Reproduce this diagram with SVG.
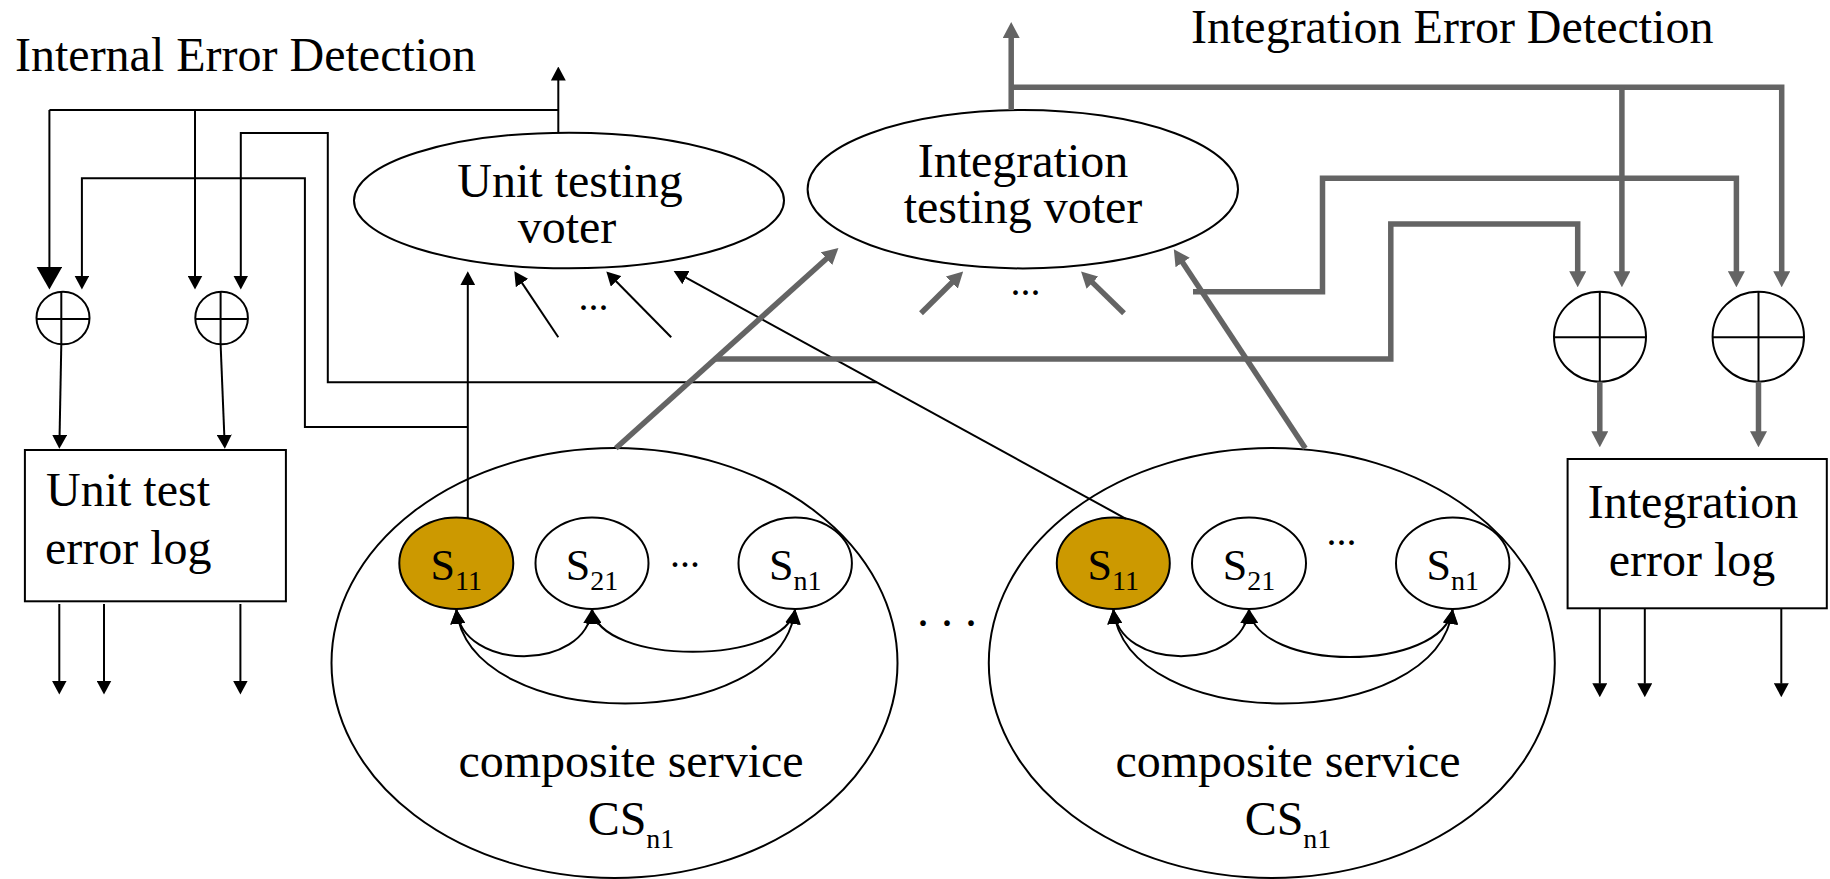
<svg xmlns="http://www.w3.org/2000/svg" width="1830" height="879" viewBox="0 0 1830 879">
  <style>
    .t { font-family: "Liberation Serif", "Times New Roman", serif; font-size: 48px; fill: #000; }
    .sv { font-size: 44px; }
    .sub { font-size: 28px; }
    .dots { font-size: 40px; }
    .shape { fill: #fff; stroke: #000; stroke-width: 2; }
    .outline { fill: none; stroke: #000; stroke-width: 2; }
    .cross { stroke: #000; stroke-width: 2; }
    .thin { fill: none; stroke: #000; stroke-width: 2; }
    .thick { fill: none; stroke: #646464; stroke-width: 5.5; }
    .sel { fill: #cc9900; }
  </style>
  <defs>
    <marker id="ak" viewBox="0 0 14 15" refX="0.5" refY="7.5" markerWidth="14" markerHeight="15" markerUnits="userSpaceOnUse" orient="auto">
      <path d="M0,0 L14,7.5 L0,15 z" fill="#000"/>
    </marker>
    <marker id="akB" viewBox="0 0 23 26" refX="0.5" refY="13" markerWidth="23" markerHeight="26" markerUnits="userSpaceOnUse" orient="auto">
      <path d="M0,0 L23,13 L0,26 z" fill="#000"/>
    </marker>
    <marker id="ag" viewBox="0 0 16 17" refX="1" refY="8.5" markerWidth="16" markerHeight="17" markerUnits="userSpaceOnUse" orient="auto">
      <path d="M0,0 L16,8.5 L0,17 z" fill="#646464"/>
    </marker>
    <marker id="akt" viewBox="0 0 15 15" refX="15" refY="7.5" markerWidth="15" markerHeight="15" markerUnits="userSpaceOnUse" orient="auto-start-reverse">
      <path d="M0,0 L15,7.5 L0,15 z" fill="#000"/>
    </marker>
  </defs>

  <rect width="1830" height="879" fill="#fff"/>

  <!-- headings -->
  <text class="t" x="15" y="70.7">Internal Error Detection</text>
  <text class="t" x="1191" y="42.7">Integration Error Detection</text>

  <!-- composite services -->
  <g id="cs-left">
    <ellipse class="outline" cx="614.5" cy="663" rx="283" ry="215"/>
    <text class="t" x="631" y="776.7" text-anchor="middle">composite service</text>
    <text class="t" x="631" y="835" text-anchor="middle">CS<tspan class="sub" font-size="31" dy="13.3">n1</tspan></text>
  </g>
  <g id="cs-right">
    <ellipse class="outline" cx="1271.8" cy="663" rx="283" ry="215"/>
    <text class="t" x="1288" y="776.7" text-anchor="middle">composite service</text>
    <text class="t" x="1288" y="835" text-anchor="middle">CS<tspan class="sub" font-size="31" dy="13.3">n1</tspan></text>
  </g>

  <!-- services, left composite -->
  <g id="s11-left">
    <ellipse class="shape sel" cx="456.3" cy="563.2" rx="57" ry="45.8"/>
    <text class="t sv" x="456.3" y="580" text-anchor="middle">S<tspan class="sub" dy="10">11</tspan></text>
  </g>
  <g id="s21-left">
    <ellipse class="shape" cx="592" cy="563.2" rx="56.5" ry="45.8"/>
    <text class="t sv" x="592" y="580" text-anchor="middle">S<tspan class="sub" dy="10">21</tspan></text>
  </g>
  <g id="sn1-left">
    <ellipse class="shape" cx="795.2" cy="563.2" rx="56.7" ry="45.8"/>
    <text class="t sv" x="795.2" y="580" text-anchor="middle">S<tspan class="sub" dy="10">n1</tspan></text>
  </g>
  <text class="t dots" x="670" y="566.5">...</text>

  <!-- services, right composite -->
  <g id="s11-right">
    <ellipse class="shape sel" cx="1113.3" cy="563.2" rx="56.5" ry="45.8"/>
    <text class="t sv" x="1113.3" y="580" text-anchor="middle">S<tspan class="sub" dy="10">11</tspan></text>
  </g>
  <g id="s21-right">
    <ellipse class="shape" cx="1249" cy="563.2" rx="57" ry="45.8"/>
    <text class="t sv" x="1249" y="580" text-anchor="middle">S<tspan class="sub" dy="10">21</tspan></text>
  </g>
  <g id="sn1-right">
    <ellipse class="shape" cx="1452.7" cy="563.2" rx="56.7" ry="45.8"/>
    <text class="t sv" x="1452.7" y="580" text-anchor="middle">S<tspan class="sub" dy="10">n1</tspan></text>
  </g>
  <text class="t dots" x="1326.5" y="545">...</text>

  <text class="t" font-size="42" x="917" y="626">. . .</text>

  <!-- voters -->
  <g id="unit-voter">
    <ellipse class="shape" cx="569" cy="200.5" rx="215" ry="67.8"/>
    <text class="t" x="570" y="196.7" text-anchor="middle">Unit testing</text>
    <text class="t" x="567" y="243.3" text-anchor="middle">voter</text>
  </g>
  <text class="t dots" x="578.5" y="310">...</text>
  <g id="integration-voter">
    <ellipse class="shape" cx="1022.8" cy="189.2" rx="215.2" ry="79.2"/>
    <text class="t" x="1023" y="176.7" text-anchor="middle">Integration</text>
    <text class="t" x="1023" y="222.7" text-anchor="middle">testing voter</text>
  </g>
  <text class="t dots" x="1010.5" y="295">...</text>

  <!-- combiners -->
  <g id="xor-unit-1">
    <ellipse class="shape" cx="63" cy="318" rx="26.5" ry="26.3"/>
    <line class="cross" x1="36.5" y1="319" x2="89.5" y2="319"/>
    <line class="cross" x1="61.3" y1="291.7" x2="61.3" y2="344.3"/>
  </g>
  <g id="xor-unit-2">
    <ellipse class="shape" cx="221.6" cy="318" rx="26.3" ry="26.3"/>
    <line class="cross" x1="195.3" y1="319" x2="247.9" y2="319"/>
    <line class="cross" x1="220.6" y1="291.7" x2="220.6" y2="344.3"/>
  </g>
  <g id="xor-int-1">
    <ellipse class="shape" cx="1600" cy="336.7" rx="46" ry="45"/>
    <line class="cross" x1="1554" y1="337.3" x2="1646" y2="337.3"/>
    <line class="cross" x1="1599.8" y1="291.7" x2="1599.8" y2="381.7"/>
  </g>
  <g id="xor-int-2">
    <ellipse class="shape" cx="1758.3" cy="336.7" rx="45.7" ry="45"/>
    <line class="cross" x1="1712.6" y1="337.3" x2="1804" y2="337.3"/>
    <line class="cross" x1="1758.5" y1="291.7" x2="1758.5" y2="381.7"/>
  </g>

  <!-- logs -->
  <g id="unit-log">
    <rect class="shape" x="24.9" y="450" width="261" height="151.3"/>
    <text class="t" x="46" y="506">Unit test</text>
    <text class="t" x="45" y="564">error log</text>
  </g>
  <g id="integration-log">
    <rect class="shape" x="1567.6" y="459" width="259.2" height="149.3"/>
    <text class="t" x="1693" y="518.3" text-anchor="middle">Integration</text>
    <text class="t" x="1692" y="575.7" text-anchor="middle">error log</text>
  </g>

  <g id="connectors">
    <g class="thin">
      <!-- unit testing: voter output and feedback buses -->
      <path d="M558.3,132.7 V80" marker-end="url(#ak)"/>
      <path d="M49.4,110 H558.3"/>
      <path d="M49.4,110 V267" marker-end="url(#akB)"/>
      <path d="M195,110 V276" marker-end="url(#ak)"/>
      <path d="M877,382.3 H327.8 V133 H240.8 V276" marker-end="url(#ak)"/>
      <path d="M467.8,427 H304.9 V178.3 H81.9 V276" marker-end="url(#ak)"/>
      <!-- combiners to unit test log -->
      <path d="M61.3,344.3 L59.6,435.3" marker-end="url(#ak)"/>
      <path d="M220.6,344.3 L224.3,435.3" marker-end="url(#ak)"/>
      <!-- unit test log outputs -->
      <path d="M59.3,604 V681" marker-end="url(#ak)"/>
      <path d="M104,604 V681" marker-end="url(#ak)"/>
      <path d="M240.4,604 V681" marker-end="url(#ak)"/>
      <!-- services to unit testing voter -->
      <path d="M467.8,518.3 V284.7" marker-end="url(#ak)"/>
      <path d="M558.3,337.3 L521.8,282.6" marker-end="url(#ak)"/>
      <path d="M671.2,337.3 L615.8,281" marker-end="url(#ak)"/>
      <path d="M1126,518.8 L685.5,277.4" marker-end="url(#ak)"/>
      <!-- integration log outputs -->
      <path d="M1599.8,608.3 V683.7" marker-end="url(#ak)"/>
      <path d="M1644.8,608.3 V683.7" marker-end="url(#ak)"/>
      <path d="M1781.3,608.3 V683.7" marker-end="url(#ak)"/>
      <!-- interactions inside the composites -->
      <path d="M456.3,609 C462,672 586,672 592,609" marker-start="url(#akt)" marker-end="url(#akt)"/>
      <path d="M456.3,609 C470,735 780,735 795.2,609" marker-start="url(#akt)" marker-end="url(#akt)"/>
      <path d="M592,609 C600,666 785,666 795.2,609" marker-start="url(#akt)" marker-end="url(#akt)"/>
      <path d="M1113.3,609 C1119,672 1243,672 1249,609" marker-start="url(#akt)" marker-end="url(#akt)"/>
      <path d="M1113.3,609 C1127,735 1437,735 1452.7,609" marker-start="url(#akt)" marker-end="url(#akt)"/>
      <path d="M1249,609 C1257,673 1442,673 1452.7,609" marker-start="url(#akt)" marker-end="url(#akt)"/>
    </g>
    <g class="thick">
      <!-- integration testing: voter output and feedback buses -->
      <path d="M1011.2,110 V37" marker-end="url(#ag)"/>
      <path d="M1011.2,87.3 H1781.7 V272.3" marker-end="url(#ag)"/>
      <path d="M1621.9,87.3 V272.3" marker-end="url(#ag)"/>
      <path d="M1193,291.7 H1322.5 V178.3 H1736.4 V272.3" marker-end="url(#ag)"/>
      <path d="M714.7,359 H1390.8 V224 H1577.7 V272.3" marker-end="url(#ag)"/>
      <!-- composites to integration testing voter -->
      <path d="M615.8,448.3 L827.3,258" marker-end="url(#ag)"/>
      <path d="M1305.3,448.3 L1182.1,261.7" marker-end="url(#ag)"/>
      <path d="M921,313.3 L952.5,282" marker-end="url(#ag)"/>
      <path d="M1124,313.3 L1091.8,281.9" marker-end="url(#ag)"/>
      <!-- combiners to integration log -->
      <path d="M1599.8,381.7 V432.3" marker-end="url(#ag)"/>
      <path d="M1758.5,381.7 V432.3" marker-end="url(#ag)"/>
    </g>
  </g>
</svg>
